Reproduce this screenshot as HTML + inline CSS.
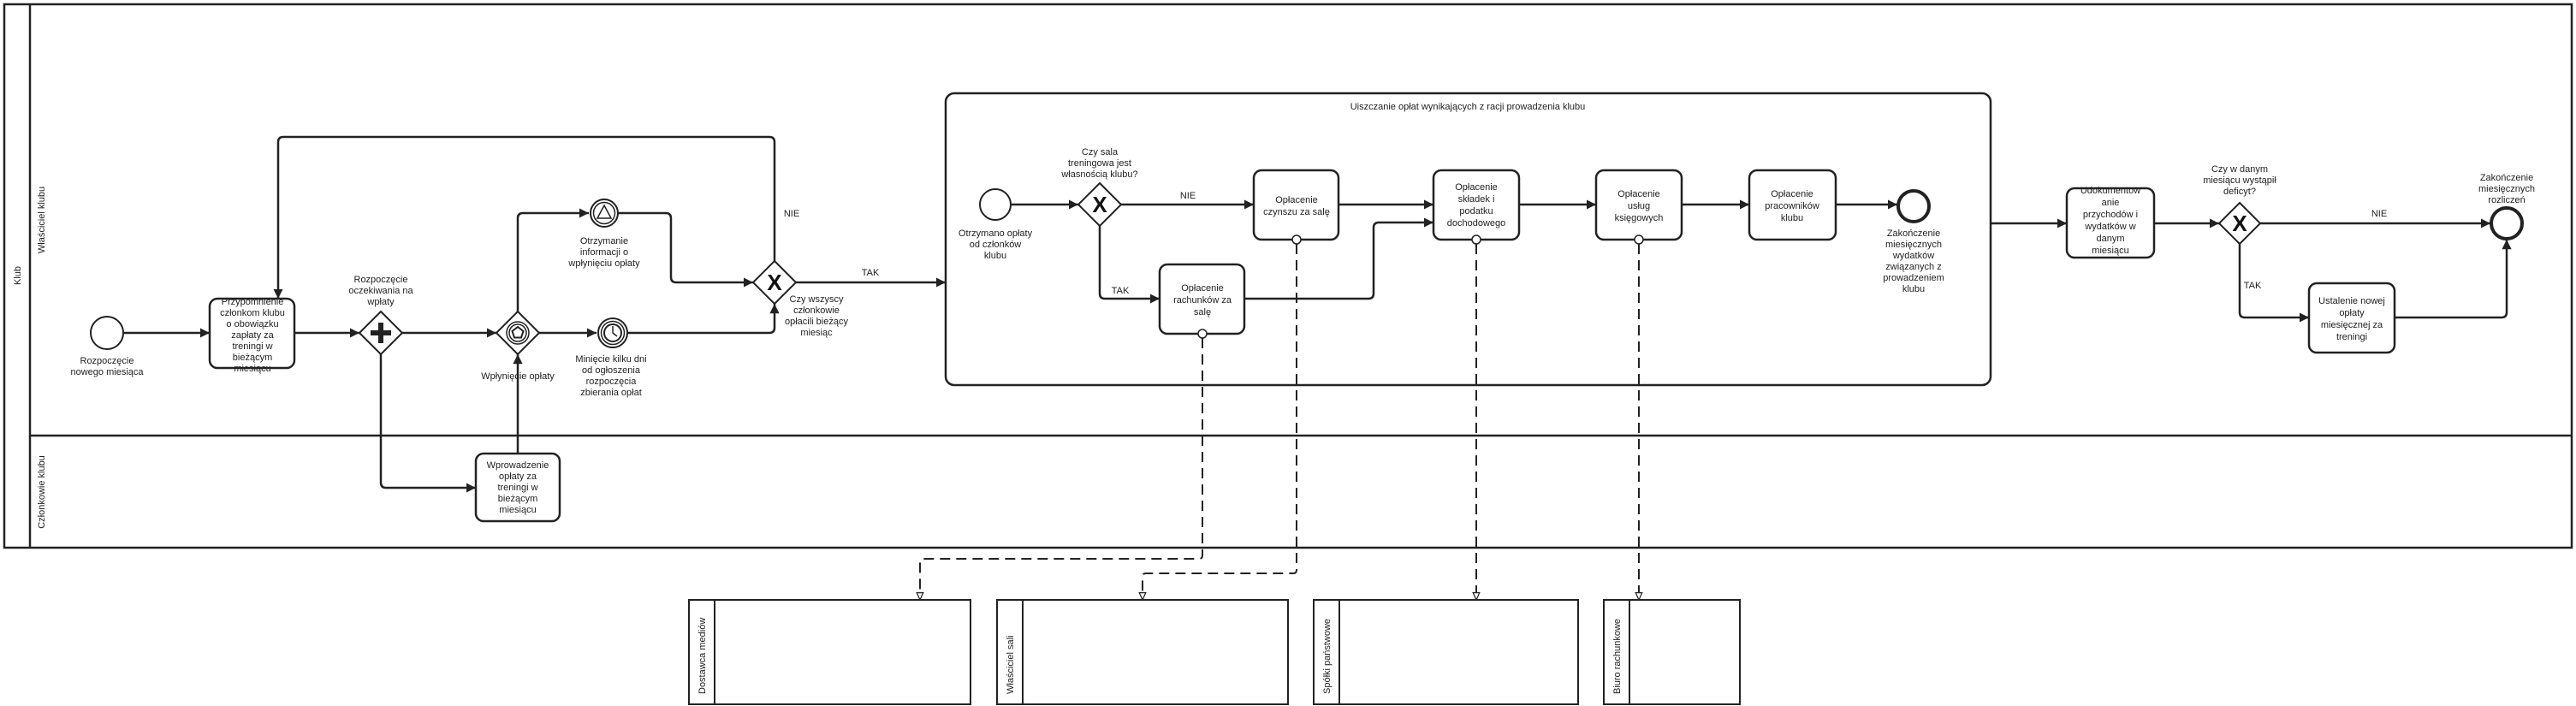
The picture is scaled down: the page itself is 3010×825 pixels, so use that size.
<!DOCTYPE html>
<html><head><meta charset="utf-8"><style>
html,body{margin:0;padding:0;background:#fff;}
svg{display:block;}
text{font-family:"Liberation Sans",Arial,sans-serif;font-size:11px;fill:#222;}
.t{text-anchor:middle;}
</style></head><body>
<svg width="3010" height="825" viewBox="0 0 3010 825" xmlns="http://www.w3.org/2000/svg">
<defs>
<marker id="a" viewBox="0 0 10 10" refX="10" refY="5" markerWidth="4.5" markerHeight="4.5" markerUnits="strokeWidth" orient="auto"><path d="M0,0 L10,5 L0,10 z" fill="#222"/></marker>
<marker id="h" viewBox="0 0 12 12" refX="11" refY="6" markerWidth="10" markerHeight="10" markerUnits="userSpaceOnUse" orient="auto"><path d="M1,1.5 L11,6 L1,10.5 z" fill="#fff" stroke="#222" stroke-width="1.5"/></marker>
</defs>
<g fill="none" stroke="#222" stroke-width="2.5">
<!-- pool -->
<rect x="5" y="5" width="3000" height="635"/>
<line x1="35" y1="5" x2="35" y2="640"/>
<line x1="35" y1="509" x2="3005" y2="509"/>
<!-- flows lane 1 -->
<path d="M144,389 H245" marker-end="url(#a)"/>
<path d="M344,389 H420" marker-end="url(#a)"/>
<path d="M470,389 H580" marker-end="url(#a)"/>
<path d="M630,389 H697" marker-end="url(#a)"/>
<path d="M605,364 V255 Q605,249 611,249 H688" marker-end="url(#a)"/>
<path d="M722,249 H778 Q784,249 784,255 V324 Q784,330 790,330 H880" marker-end="url(#a)"/>
<path d="M733,389 H899 Q905,389 905,383 V355" marker-end="url(#a)"/>
<path d="M905,305 V166 Q905,160 899,160 H331 Q325,160 325,166 V349" marker-end="url(#a)"/>
<path d="M930,330 H1105" marker-end="url(#a)"/>
<path d="M445,413 V564 Q445,570 451,570 H556" marker-end="url(#a)"/>
<path d="M605,530 V414" marker-end="url(#a)"/>
<!-- subprocess -->
<rect x="1105" y="109" width="1221" height="341" rx="10"/>
<path d="M1181,239 H1260" marker-end="url(#a)"/>
<path d="M1310,239 H1465" marker-end="url(#a)"/>
<path d="M1285,264 V343 Q1285,349 1291,349 H1355" marker-end="url(#a)"/>
<path d="M1454,349 H1599 Q1605,349 1605,343 V266 Q1605,260 1611,260 H1675" marker-end="url(#a)"/>
<path d="M1564,239 H1675" marker-end="url(#a)"/>
<path d="M1775,239 H1865" marker-end="url(#a)"/>
<path d="M1965,239 H2044" marker-end="url(#a)"/>
<path d="M2145,239 H2217" marker-end="url(#a)"/>
<path d="M2326,261 H2415" marker-end="url(#a)"/>
<path d="M2517,261 H2593" marker-end="url(#a)"/>
<path d="M2641,261 H2910" marker-end="url(#a)"/>
<path d="M2617,285 V365 Q2617,371 2623,371 H2698" marker-end="url(#a)"/>
<path d="M2798,371 H2923 Q2929,371 2929,365 V280" marker-end="url(#a)"/>
<!-- tasks -->
<rect x="245" y="349" width="99" height="81" rx="9"/>
<rect x="556" y="530" width="98" height="79" rx="9"/>
<rect x="1465" y="199" width="99" height="81" rx="9"/>
<rect x="1355" y="309" width="99" height="81" rx="9"/>
<rect x="1675" y="199" width="100" height="81" rx="9"/>
<rect x="1865" y="199" width="100" height="81" rx="9"/>
<rect x="2044" y="199" width="101" height="81" rx="9"/>
<rect x="2415" y="220" width="102" height="81" rx="9"/>
<rect x="2698" y="331" width="100" height="81" rx="9"/>
<!-- events -->
<circle cx="125" cy="389" r="19" stroke-width="2"/>
<circle cx="1163" cy="239" r="18" stroke-width="2"/>
<circle cx="2236" cy="241" r="18" stroke-width="4"/>
<circle cx="2929" cy="261" r="18" stroke-width="4"/>
<circle cx="706" cy="249" r="16" stroke-width="2"/>
<circle cx="706" cy="249" r="12.5" stroke-width="1.5"/>
<path d="M706,240 L714,255 L698,255 z" stroke-width="1.5"/>
<circle cx="716" cy="389" r="17" stroke-width="2"/>
<circle cx="716" cy="389" r="13.5" stroke-width="1.5"/>
<circle cx="716" cy="389" r="10" stroke-width="2"/>
<path d="M716,381 V389 L721,393" stroke-width="1.5"/>
<!-- gateways -->
<path d="M445,364 L470,389 L445,414 L420,389 z" stroke-width="2"/>
<path d="M445,377 V401 M433,389 H457" stroke-width="6"/>
<path d="M605,364 L630,389 L605,414 L580,389 z" stroke-width="2"/>
<circle cx="605" cy="389" r="13" stroke-width="1.5"/>
<circle cx="605" cy="389" r="10" stroke-width="1.5"/>
<path d="M605,382 L611.5,387 L609,394.5 L601,394.5 L598.5,387 z" stroke-width="2"/>
<path d="M905,305 L930,330 L905,355 L880,330 z" stroke-width="2"/>
<path d="M1285,214 L1310,239 L1285,264 L1260,239 z" stroke-width="2"/>
<path d="M2617,237 L2641,261 L2617,285 L2593,261 z" stroke-width="2"/>
<!-- boundary circles -->
<circle cx="1515" cy="280" r="5" fill="#fff" stroke-width="1.5"/>
<circle cx="1405" cy="390" r="5" fill="#fff" stroke-width="1.5"/>
<circle cx="1725" cy="280" r="5" fill="#fff" stroke-width="1.5"/>
<circle cx="1915" cy="280" r="5" fill="#fff" stroke-width="1.5"/>
<!-- message flows -->
<g stroke-width="2" stroke-dasharray="12,7">
<path d="M1405,395 V649 Q1405,653 1401,653 H1079 Q1075,653 1075,657 V701" marker-end="url(#h)"/>
<path d="M1515,285 V666 Q1515,670 1511,670 H1339 Q1335,670 1335,674 V701" marker-end="url(#h)"/>
<path d="M1725,285 V701" marker-end="url(#h)"/>
<path d="M1915,285 V701" marker-end="url(#h)"/>
</g>
<!-- external pools -->
<g stroke-width="2">
<rect x="805" y="701" width="329" height="122"/><line x1="835" y1="701" x2="835" y2="823"/>
<rect x="1165" y="701" width="340" height="122"/><line x1="1195" y1="701" x2="1195" y2="823"/>
<rect x="1535" y="701" width="309" height="122"/><line x1="1565" y1="701" x2="1565" y2="823"/>
<rect x="1874" y="701" width="159" height="122"/><line x1="1904" y1="701" x2="1904" y2="823"/>
</g>
</g>
<!-- X markers -->
<g font-weight="bold">
<text x="905" y="339" class="t" style="font-size:26px;fill:#111">X</text>
<text x="1285" y="248" class="t" style="font-size:26px;fill:#111">X</text>
<text x="2617" y="270" class="t" style="font-size:26px;fill:#111">X</text>
</g>
<!-- vertical labels -->
<g style="font-size:13px">
<text transform="translate(24,322) rotate(-90)" class="t">Klub</text>
<text transform="translate(52,257) rotate(-90)" class="t">Właściciel klubu</text>
<text transform="translate(52,575) rotate(-90)" class="t">Członkowie klubu</text>
<text transform="translate(824,811) rotate(-90)">Dostawca mediów</text>
<text transform="translate(1184,811) rotate(-90)">Właściciel sali</text>
<text transform="translate(1554,811) rotate(-90)">Spółki państwowe</text>
<text transform="translate(1893,811) rotate(-90)">Biuro rachunkowe</text>
</g>
<!-- text labels -->
<g class="t">
<text x="125" y="425" class="t">Rozpoczęcie</text><text x="125" y="438" class="t">nowego miesiąca</text>
<text x="295" y="356" class="t">Przypomnienie</text><text x="295" y="369" class="t">członkom klubu</text><text x="295" y="382" class="t">o obowiązku</text><text x="295" y="395" class="t">zapłaty za</text><text x="295" y="408" class="t">treningi w</text><text x="295" y="421" class="t">bieżącym</text><text x="295" y="434" class="t">miesiącu</text>
<text x="445" y="330" class="t">Rozpoczęcie</text><text x="445" y="343" class="t">oczekiwania na</text><text x="445" y="356" class="t">wpłaty</text>
<text x="605" y="443" class="t">Wpłynięcie opłaty</text>
<text x="706" y="285" class="t">Otrzymanie</text><text x="706" y="298" class="t">informacji o</text><text x="706" y="311" class="t">wpłynięciu opłaty</text>
<text x="714" y="423" class="t">Minięcie kilku dni</text><text x="714" y="436" class="t">od ogłoszenia</text><text x="714" y="449" class="t">rozpoczęcia</text><text x="714" y="462" class="t">zbierania opłat</text>
<text x="954" y="353" class="t">Czy wszyscy</text><text x="954" y="366" class="t">członkowie</text><text x="954" y="379" class="t">opłacili bieżący</text><text x="954" y="392" class="t">miesiąc</text>
<text x="925" y="253" class="t">NIE</text>
<text x="1017" y="322" class="t">TAK</text>
<text x="605" y="547" class="t">Wprowadzenie</text><text x="605" y="560" class="t">opłaty za</text><text x="605" y="573" class="t">treningi w</text><text x="605" y="586" class="t">bieżącym</text><text x="605" y="599" class="t">miesiącu</text>
<text x="1715" y="128" class="t">Uiszczanie opłat wynikających z racji prowadzenia klubu</text>
<text x="1163" y="276" class="t">Otrzymano opłaty</text><text x="1163" y="289" class="t">od członków</text><text x="1163" y="302" class="t">klubu</text>
<text x="1285" y="181" class="t">Czy sala</text><text x="1285" y="194" class="t">treningowa jest</text><text x="1285" y="207" class="t">własnością klubu?</text>
<text x="1388" y="232" class="t">NIE</text>
<text x="1309" y="343" class="t">TAK</text>
<text x="1515" y="237" class="t">Opłacenie</text><text x="1515" y="251" class="t">czynszu za salę</text>
<text x="1405" y="340" class="t">Opłacenie</text><text x="1405" y="354" class="t">rachunków za</text><text x="1405" y="368" class="t">salę</text>
<text x="1725" y="222" class="t">Opłacenie</text><text x="1725" y="236" class="t">składek i</text><text x="1725" y="250" class="t">podatku</text><text x="1725" y="264" class="t">dochodowego</text>
<text x="1915" y="230" class="t">Opłacenie</text><text x="1915" y="244" class="t">usług</text><text x="1915" y="258" class="t">księgowych</text>
<text x="2094" y="230" class="t">Opłacenie</text><text x="2094" y="244" class="t">pracowników</text><text x="2094" y="258" class="t">klubu</text>
<text x="2236" y="276" class="t">Zakończenie</text><text x="2236" y="289" class="t">miesięcznych</text><text x="2236" y="302" class="t">wydatków</text><text x="2236" y="315" class="t">związanych z</text><text x="2236" y="328" class="t">prowadzeniem</text><text x="2236" y="341" class="t">klubu</text>
<text x="2466" y="226" class="t">Udokumentow</text><text x="2466" y="240" class="t">anie</text><text x="2466" y="254" class="t">przychodów i</text><text x="2466" y="268" class="t">wydatków w</text><text x="2466" y="282" class="t">danym</text><text x="2466" y="296" class="t">miesiącu</text>
<text x="2617" y="201" class="t">Czy w danym</text><text x="2617" y="214" class="t">miesiącu wystąpił</text><text x="2617" y="227" class="t">deficyt?</text>
<text x="2780" y="253" class="t">NIE</text>
<text x="2632" y="337" class="t">TAK</text>
<text x="2929" y="211" class="t">Zakończenie</text><text x="2929" y="224" class="t">miesięcznych</text><text x="2929" y="237" class="t">rozliczeń</text>
<text x="2748" y="355" class="t">Ustalenie nowej</text><text x="2748" y="369" class="t">opłaty</text><text x="2748" y="383" class="t">miesięcznej za</text><text x="2748" y="397" class="t">treningi</text>
</g>
</svg>
</body></html>
